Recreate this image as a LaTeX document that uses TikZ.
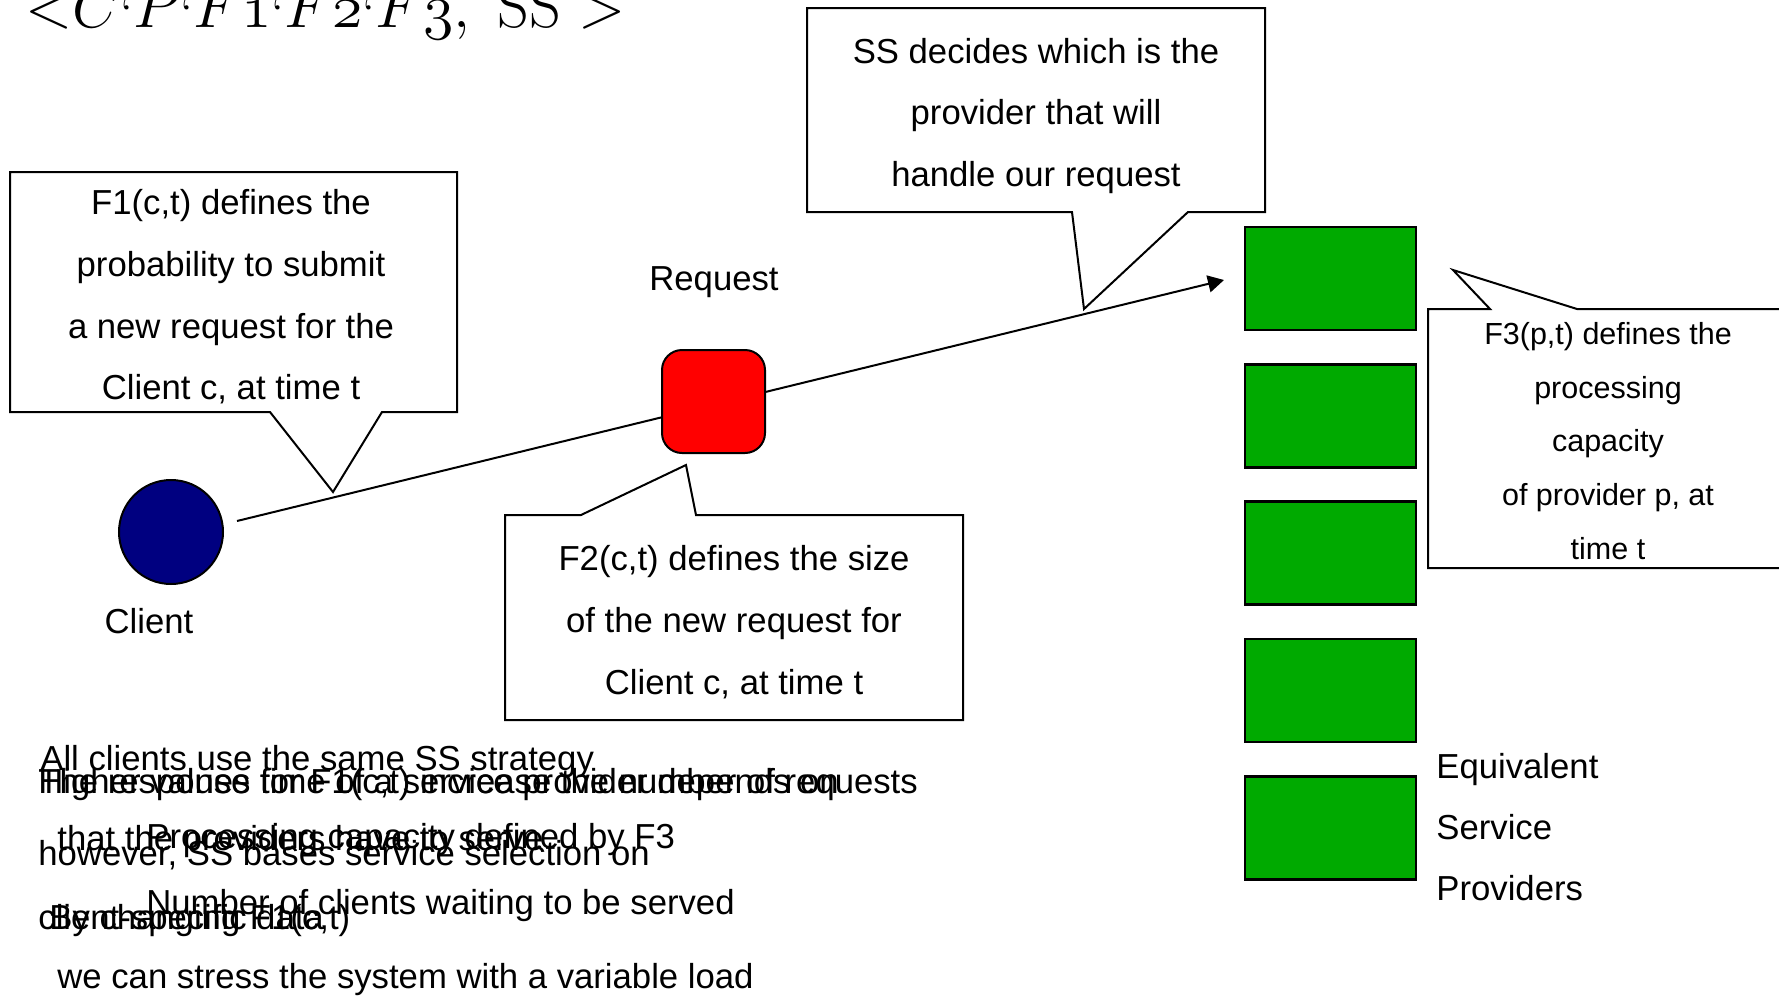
\documentclass[tikz,border=0pt]{standalone}
\usepackage{graphicx}
\usepackage[no-math]{fontspec}
\setmainfont{Liberation Sans}
\usetikzlibrary{arrows.meta}
\definecolor{clientblue}{RGB}{0,0,128}
\definecolor{provgreen}{RGB}{0,170,0}
\definecolor{reqred}{RGB}{255,0,0}
% small raised separator used inside the model tuple
\newcommand{\tupletick}{\mathord{\raisebox{-0.07em}{$\scriptstyle`$}}}

\begin{document}
\begin{tikzpicture}[x=0.5pt,y=-0.5pt,
  lbl/.style={font=\fontsize{17.35}{30.85}\selectfont, inner sep=0pt},
  smalllbl/.style={font=\fontsize{15.25}{26.9}\selectfont, inner sep=0pt},
  note/.style={lbl, anchor=base west},
  callout/.style={draw=black, fill=white, line width=1pt, line join=miter},
  provider/.style={draw=black, fill=provgreen, line width=1.3pt,
    minimum width=85.5pt, minimum height=51.5pt, inner sep=0pt},
  flow/.style={line width=1pt, -{Triangle[length=8pt,width=8.5pt]}},
]
\useasboundingbox (0,0) rectangle (1779,997);
\clip (0,0) rectangle (1779,997);
\fill[white] (0,0) rectangle (1779,997);

% model tuple
\node[anchor=base west, inner sep=0pt, font=\fontsize{24.88}{28}\selectfont] (tuple)
  at (25,27) {\scalebox{1.245}{$\mathord{<}C\tupletick P\tupletick F\mathnormal{1}\tupletick
  F\mathnormal{2}\tupletick F\mathnormal{3},\ \mathrm{SS}\ \mathord{>}$}};

% request flow from the client towards the providers
\coordinate (clientout) at (237,521);
\coordinate (selin) at (1224,280);
\draw[flow] (clientout) -- (selin);

% client
\node[circle, draw=black, fill=clientblue, line width=1pt, minimum size=52pt, inner sep=0pt]
  (client) at (171,532) {};
\node[lbl] (clientlbl) at (149,621) {Client};

% request
\node[draw=black, fill=reqred, line width=1pt, rounded corners=10pt,
  minimum size=51.5pt, inner sep=0pt] (request) at (713.5,401.5) {};
\node[lbl] (requestlbl) at (714,282) {Request};

% equivalent service providers
\node[provider] (p1) at (1330.5,278.5) {};
\node[provider] (p2) at (1330.5,415.8) {};
\node[provider] (p3) at (1330.5,553.1) {};
\node[provider] (p4) at (1330.5,690.4) {};
\node[provider] (p5) at (1330.5,827.7) {};
\node[lbl, font=\fontsize{17.35}{30.3}\selectfont, align=left, anchor=west] (provlbl)
  at (1436,827) {Equivalent\\Service\\Providers};

% callout: F1
\draw[callout] (10,172) -- (457,172) -- (457,412) -- (382,412) -- (333,492)
  -- (270,412) -- (10,412) -- cycle;
\node[lbl, align=center] (f1txt) at (231,297)
  {F1(c,t) defines the\\probability to submit\\a new request for the\\Client c, at time t};

% callout: service selection
\draw[callout] (807,8) -- (1265,8) -- (1265,212) -- (1188,212) -- (1084,309)
  -- (1072,212) -- (807,212) -- cycle;
\node[lbl, align=center] (sstxt) at (1036,116)
  {SS decides which is the\\provider that will\\handle our request};

% callout: F2
\draw[callout] (505,515) -- (581,515) -- (686,465) -- (696,515) -- (963,515)
  -- (963,720) -- (505,720) -- cycle;
\node[lbl, align=center] (f2txt) at (734,622)
  {F2(c,t) defines the size\\of the new request for\\Client c, at time t};

% callout: F3
\draw[callout] (1428,309) -- (1490,309) -- (1453,270) -- (1577,309) -- (1795,309)
  -- (1795,568) -- (1428,568) -- cycle;
\node[smalllbl, align=center] (f3txt) at (1608,441)
  {F3(p,t) defines the\\processing\\capacity\\of provider p, at\\time t};

% notes (three text blocks set on top of each other)
\node[note] (n1a) at (40,770) {All clients use the same SS strategy};
\node[note] (n1b) at (38,865) {however, SS bases service selection on};
\node[note] (n1c) at (38,929) {client-specific data};

\node[note] (n2a) at (38,793) {Higher values for F1(c,t) increase the number of requests};
\node[note] (n2b) at (57,850) {that the providers have to serve};
\node[note] (n2c) at (49,929) {By changing F1(c,t)};
\node[note] (n2d) at (57,988) {we can stress the system with a variable load};

\node[note] (n3a) at (38,793) {The response time of a service provider depends on};
\node[note] (n3b) at (146,848) {Processing capacity defined by F3};
\node[note] (n3c) at (146,914) {Number of clients waiting to be served};
\end{tikzpicture}
\end{document}
